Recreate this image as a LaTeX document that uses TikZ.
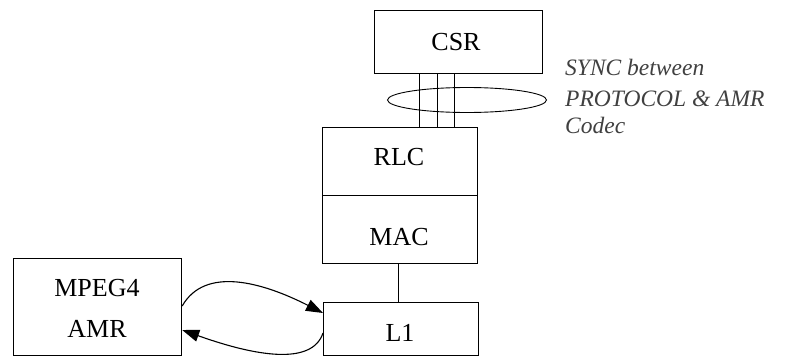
\documentclass[tikz,border=0pt]{standalone}
\usepackage{fontspec}
\setmainfont{Liberation Serif}
\usetikzlibrary{arrows.meta,shapes.geometric}
\begin{document}
\begin{tikzpicture}[x=1pt,y=-1pt,
  box/.style={draw,line width=1.2pt,rectangle,inner sep=0pt,anchor=north west},
  lbl/.style={inner sep=0pt,font=\fontsize{26}{30}\selectfont},
  note/.style={inner sep=0pt,anchor=base west,text=black!75,font=\fontsize{23.5}{28}\selectfont\itshape},
  wire/.style={line width=1pt},
  flow/.style={line width=1.1pt,-{Triangle[length=17pt,width=12pt]}}]
\useasboundingbox (0,0) rectangle (800,356);
% boxes
\node[box,minimum width=168pt,minimum height=63pt] (csr) at (374,10) {};
\node[box,minimum width=155pt,minimum height=68pt] (rlc) at (322,127) {};
\node[box,minimum width=155pt,minimum height=68pt] (mac) at (322,195) {};
\node[box,minimum width=155pt,minimum height=53pt] (l1) at (323,302) {};
\node[box,minimum width=168pt,minimum height=97pt] (mpeg) at (13,258) {};
% texts
\node[lbl] (tcsr) at (456,42) {CSR};
\node[lbl] (trlc) at (399,157) {RLC};
\node[lbl] (tmac) at (399,237) {MAC};
\node[lbl] (tl1) at (400,333) {L1};
\node[lbl] (tmp) at (97,288) {MPEG4};
\node[lbl] (tamr) at (97,329) {AMR};
% sync lines and ellipse
\coordinate (c1) at (419,0);
\coordinate (c2) at (437,0);
\coordinate (c3) at (454,0);
\draw[wire] (csr.south -| c1) -- (rlc.north -| c1);
\draw[wire] (csr.south -| c2) -- (rlc.north -| c2);
\draw[wire] (csr.south -| c3) -- (rlc.north -| c3);
\node[draw,ellipse,line width=0.9pt,minimum width=159pt,minimum height=25pt,inner sep=0pt] (sync) at (467,100) {};
\node[note] (n1) at (565,75) {SYNC between};
\node[note] (n2) at (565,106) {PROTOCOL \& AMR};
\node[note] (n3) at (565,133) {Codec};
% MAC - L1
\coordinate (cm) at (398,0);
\draw[wire] (mac.south -| cm) -- (l1.north -| cm);
% loop arrows
\coordinate (a1) at (181,306);
\coordinate (b1) at (323,313);
\coordinate (a2) at (323,333);
\coordinate (b2) at (182,330);
\draw[flow] (mpeg.east |- a1) .. controls (205,266) and (262,282) .. (l1.west |- b1);
\draw[flow] (l1.west |- a2) .. controls (312,366) and (255,356) .. (mpeg.east |- b2);
\end{tikzpicture}
\end{document}
